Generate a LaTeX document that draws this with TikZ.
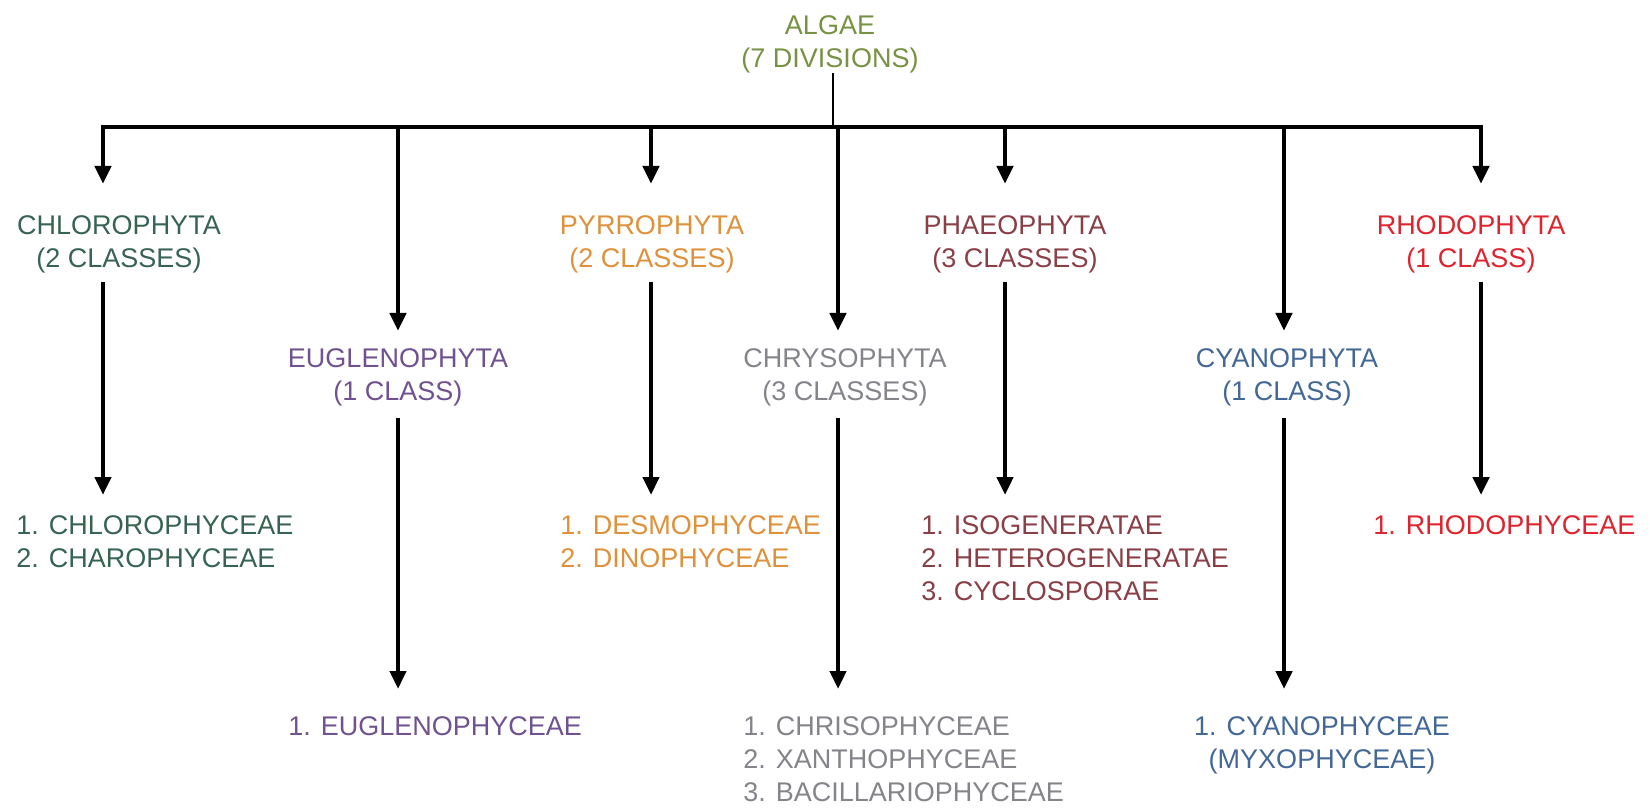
\documentclass[tikz,border=0pt]{standalone}
\usepackage{fontspec}
\setmainfont{Liberation Sans}
\usetikzlibrary{arrows.meta}
\definecolor{cAlg}{RGB}{118,146,66}
\definecolor{cChl}{RGB}{55,100,82}
\definecolor{cEug}{RGB}{112,82,145}
\definecolor{cPyr}{RGB}{222,145,58}
\definecolor{cChr}{RGB}{132,132,138}
\definecolor{cPha}{RGB}{138,62,70}
\definecolor{cCya}{RGB}{68,104,150}
\definecolor{cRho}{RGB}{222,36,46}
\tikzset{
  lbl/.style={inner sep=0pt, align=center, font=\fontsize{13.5}{16.5}\selectfont},
  sub/.style={inner sep=0pt, align=left, anchor=north west, font=\fontsize{13.5}{16.5}\selectfont},
  arr/.style={line width=2.4pt, -{Triangle[width=8pt,length=9pt]}},
  barline/.style={line width=1.6pt},
  stem/.style={line width=1pt}
}
\begin{document}
\begin{tikzpicture}[x=0.5pt,y=-0.5pt]
\useasboundingbox (0,0) rectangle (1650,808);
% root
\node[lbl, text=cAlg] (alg) at (830,44) {ALGAE\\(7 DIVISIONS)};
% bar coordinates
\coordinate (b1) at (103,127);
\coordinate (b2) at (398,127);
\coordinate (b3) at (651,127);
\coordinate (b4) at (838,127);
\coordinate (b5) at (1005,127);
\coordinate (b6) at (1284,127);
\coordinate (b7) at (1481,127);
\coordinate (bs) at (833,127);
\draw[stem] (alg.south -| bs) -- (bs);
\draw[barline] ([xshift=-1.2pt]b1) -- ([xshift=1.2pt]b7);
% level 1
\node[lbl, text=cChl] (chl) at (119,244) {CHLOROPHYTA\\(2 CLASSES)};
\node[lbl, text=cPyr] (pyr) at (652,244) {PYRROPHYTA\\(2 CLASSES)};
\node[lbl, text=cPha] (pha) at (1015,244) {PHAEOPHYTA\\(3 CLASSES)};
\node[lbl, text=cRho] (rho) at (1471,244) {RHODOPHYTA\\(1 CLASS)};
% level 2
\node[lbl, text=cEug] (eug) at (398,377) {EUGLENOPHYTA\\(1 CLASS)};
\node[lbl, text=cChr] (chr) at (845,377) {CHRYSOPHYTA\\(3 CLASSES)};
\node[lbl, text=cCya] (cya) at (1287,377) {CYANOPHYTA\\(1 CLASS)};
% subclasses
\node[sub, text=cChl] (chlS) at (16,515) {1. CHLOROPHYCEAE\\2. CHAROPHYCEAE};
\node[sub, text=cPyr] (pyrS) at (560,515) {1. DESMOPHYCEAE\\2. DINOPHYCEAE};
\node[sub, text=cPha] (phaS) at (921,515) {1. ISOGENERATAE\\2. HETEROGENERATAE\\3. CYCLOSPORAE};
\node[sub, text=cRho] (rhoS) at (1373,515) {1. RHODOPHYCEAE};
\node[sub, text=cEug] (eugS) at (288,716) {1. EUGLENOPHYCEAE};
\node[sub, text=cChr] (chrS) at (743,716) {1. CHRISOPHYCEAE\\2. XANTHOPHYCEAE\\3. BACILLARIOPHYCEAE};
\node[lbl, anchor=north, text=cCya] (cyaS) at (1322,716) {1. CYANOPHYCEAE\\(MYXOPHYCEAE)};
% arrows from bar
\foreach \b/\n in {b1/chl,b3/pyr,b5/pha,b7/rho}
  \draw[arr, shorten >=31pt/2] (\b) -- (\b |- \n.north);
\foreach \b/\n in {b2/eug,b4/chr,b6/cya}
  \draw[arr, shorten >=17pt/2] (\b) -- (\b |- \n.north);
% arrows to subclasses
\foreach \b/\n/\s in {b1/chl/chlS,b3/pyr/pyrS,b5/pha/phaS,b7/rho/rhoS}
  \draw[arr, shorten <=9pt/2, shorten >=20pt/2] (\b |- \n.south) -- (\b |- \s.north);
\foreach \b/\n/\s in {b2/eug/eugS,b4/chr/chrS,b6/cya/cyaS}
  \draw[arr, shorten <=12pt/2, shorten >=27pt/2] (\b |- \n.south) -- (\b |- \s.north);
\end{tikzpicture}
\end{document}
